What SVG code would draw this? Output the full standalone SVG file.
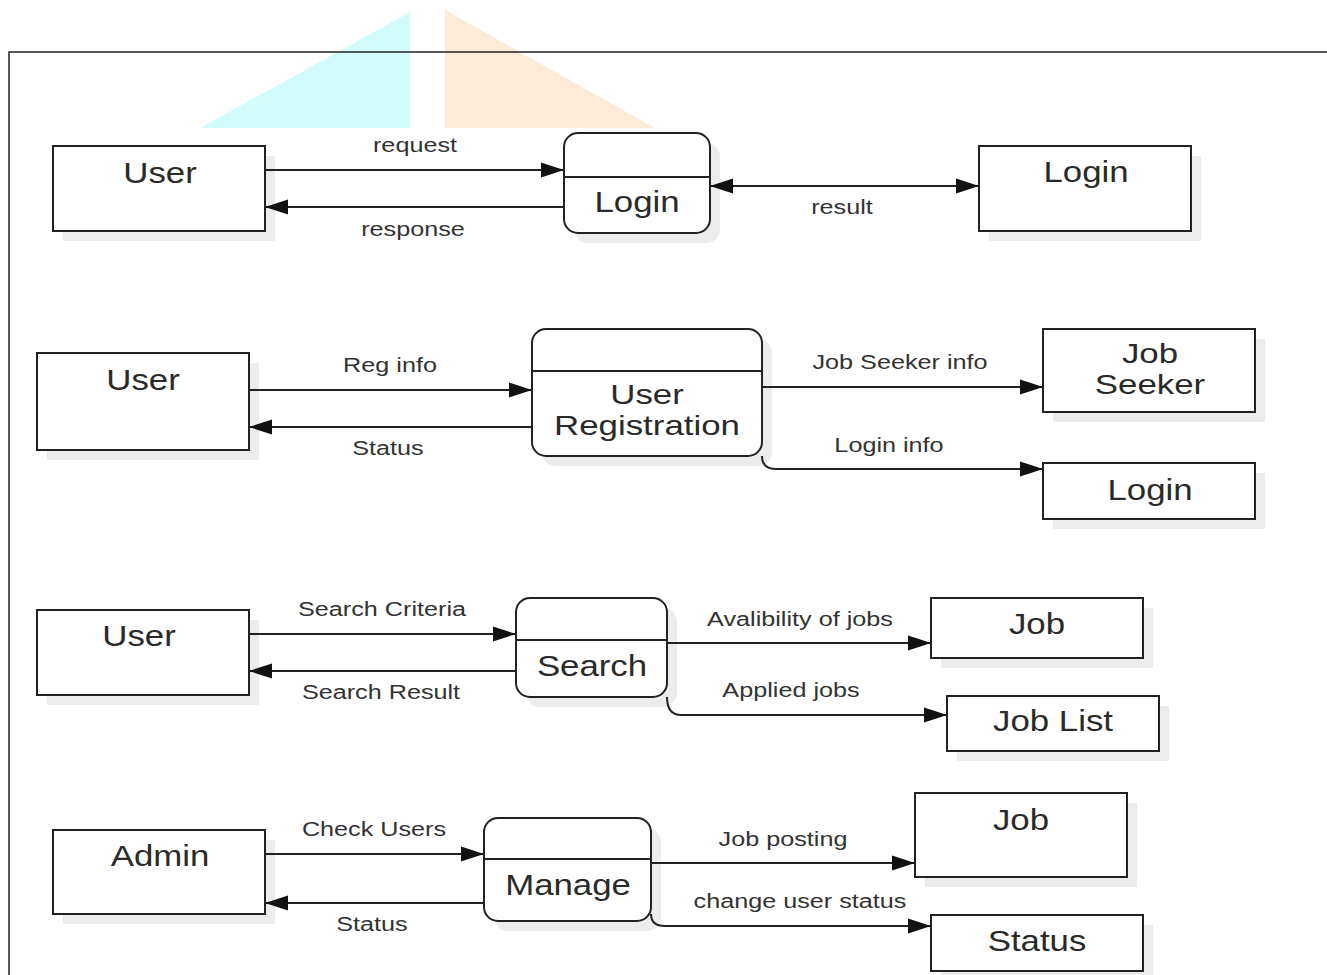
<svg xmlns="http://www.w3.org/2000/svg" width="1327" height="975" viewBox="0 0 1327 975">
<style>
.box{fill:#fff;stroke:#222;stroke-width:2}
.sh{fill:#ececec}
.ln{fill:none;stroke:#222;stroke-width:2}
.n{font-family:"Liberation Sans",Arial,sans-serif;font-size:29px;fill:#2a2a2a;text-anchor:middle}
.n2{font-family:"Liberation Sans",Arial,sans-serif;font-size:27px;fill:#2a2a2a;text-anchor:middle}
.l{font-family:"Liberation Sans",Arial,sans-serif;font-size:21px;fill:#333;text-anchor:middle}
</style>
<defs>
<marker id="ah" markerUnits="userSpaceOnUse" markerWidth="24" markerHeight="16" refX="23" refY="8" orient="auto-start-reverse">
<path d="M0,0.5 L23,8 L0,15.5 z" fill="#111"/>
</marker>
</defs>
<rect width="1327" height="975" fill="#fff"/>
<g id="watermark">
<polygon points="200,128 410,12 410,128" fill="#d2fcfc"/>
<polygon points="445,10 445,128 655,128" fill="#fdebd9"/>
</g>
<path d="M9,975 L9,52 L1327,52" fill="none" stroke="#222" stroke-width="1.5"/>

<g id="user1">
<rect class="sh" x="63" y="156" width="212" height="85"/>
<rect class="box" x="53" y="146" width="212" height="85"/>
<text class="n" transform="translate(160,183) scale(1.2,1)">User</text>
</g>
<g id="login-process">
<rect class="sh" x="574" y="143" width="146" height="100" rx="14"/>
<rect class="box" x="564" y="133" width="146" height="100" rx="14"/>
<line class="ln" x1="564" y1="177" x2="710" y2="177"/>
<text class="n" transform="translate(637,212) scale(1.2,1)">Login</text>
</g>
<g id="login-store1">
<rect class="sh" x="989" y="156" width="212" height="85"/>
<rect class="box" x="979" y="146" width="212" height="85"/>
<text class="n" transform="translate(1086,182) scale(1.2,1)">Login</text>
</g>

<g id="user2">
<rect class="sh" x="47" y="363" width="212" height="97"/>
<rect class="box" x="37" y="353" width="212" height="97"/>
<text class="n" transform="translate(143,390) scale(1.2,1)">User</text>
</g>
<g id="user-registration">
<rect class="sh" x="542" y="339" width="230" height="127" rx="14"/>
<rect class="box" x="532" y="329" width="230" height="127" rx="14"/>
<line class="ln" x1="532" y1="371" x2="762" y2="371"/>
<text class="n2" transform="translate(647,404) scale(1.29,1)">User</text>
<text class="n2" transform="translate(647,435) scale(1.29,1)">Registration</text>
</g>
<g id="job-seeker">
<rect class="sh" x="1053" y="339" width="212" height="83"/>
<rect class="box" x="1043" y="329" width="212" height="83"/>
<text class="n2" transform="translate(1150,363) scale(1.29,1)">Job</text>
<text class="n2" transform="translate(1150,394) scale(1.29,1)">Seeker</text>
</g>
<g id="login-store2">
<rect class="sh" x="1053" y="473" width="212" height="56"/>
<rect class="box" x="1043" y="463" width="212" height="56"/>
<text class="n" transform="translate(1150,500) scale(1.2,1)">Login</text>
</g>

<g id="user3">
<rect class="sh" x="47" y="620" width="212" height="85"/>
<rect class="box" x="37" y="610" width="212" height="85"/>
<text class="n" transform="translate(139,646) scale(1.2,1)">User</text>
</g>
<g id="search">
<rect class="sh" x="526" y="608" width="151" height="99" rx="14"/>
<rect class="box" x="516" y="598" width="151" height="99" rx="14"/>
<line class="ln" x1="516" y1="640" x2="667" y2="640"/>
<text class="n" transform="translate(592,676) scale(1.2,1)">Search</text>
</g>
<g id="job1">
<rect class="sh" x="941" y="608" width="212" height="60"/>
<rect class="box" x="931" y="598" width="212" height="60"/>
<text class="n" transform="translate(1037,634) scale(1.2,1)">Job</text>
</g>
<g id="job-list">
<rect class="sh" x="957" y="706" width="212" height="55"/>
<rect class="box" x="947" y="696" width="212" height="55"/>
<text class="n" transform="translate(1053,731) scale(1.2,1)">Job List</text>
</g>

<g id="admin">
<rect class="sh" x="63" y="840" width="212" height="84"/>
<rect class="box" x="53" y="830" width="212" height="84"/>
<text class="n" transform="translate(160,866) scale(1.2,1)">Admin</text>
</g>
<g id="manage">
<rect class="sh" x="494" y="828" width="167" height="103" rx="14"/>
<rect class="box" x="484" y="818" width="167" height="103" rx="14"/>
<line class="ln" x1="484" y1="859" x2="651" y2="859"/>
<text class="n" transform="translate(568,895) scale(1.2,1)">Manage</text>
</g>
<g id="job2">
<rect class="sh" x="925" y="803" width="212" height="84"/>
<rect class="box" x="915" y="793" width="212" height="84"/>
<text class="n" transform="translate(1021,830) scale(1.2,1)">Job</text>
</g>
<g id="status">
<rect class="sh" x="941" y="925" width="212" height="56"/>
<rect class="box" x="931" y="915" width="212" height="56"/>
<text class="n" transform="translate(1037,951) scale(1.2,1)">Status</text>
</g>

<g id="connectors">
<line class="ln" x1="265" y1="170" x2="564" y2="170" marker-end="url(#ah)"/>
<line class="ln" x1="564" y1="207" x2="265" y2="207" marker-end="url(#ah)"/>
<line class="ln" x1="710" y1="186" x2="979" y2="186" marker-start="url(#ah)" marker-end="url(#ah)"/>
<text class="l" transform="translate(415,152) scale(1.2,1)">request</text>
<text class="l" transform="translate(413,236) scale(1.2,1)">response</text>
<text class="l" transform="translate(842,214) scale(1.2,1)">result</text>

<line class="ln" x1="249" y1="390" x2="532" y2="390" marker-end="url(#ah)"/>
<line class="ln" x1="532" y1="427" x2="249" y2="427" marker-end="url(#ah)"/>
<line class="ln" x1="762" y1="387" x2="1043" y2="387" marker-end="url(#ah)"/>
<path class="ln" d="M762,456 Q762,469 776,469 L1043,469" marker-end="url(#ah)"/>
<text class="l" transform="translate(390,372) scale(1.2,1)">Reg info</text>
<text class="l" transform="translate(388,455) scale(1.2,1)">Status</text>
<text class="l" transform="translate(900,369) scale(1.2,1)">Job Seeker info</text>
<text class="l" transform="translate(889,452) scale(1.2,1)">Login info</text>

<line class="ln" x1="249" y1="634" x2="516" y2="634" marker-end="url(#ah)"/>
<line class="ln" x1="516" y1="671" x2="249" y2="671" marker-end="url(#ah)"/>
<line class="ln" x1="667" y1="643" x2="931" y2="643" marker-end="url(#ah)"/>
<path class="ln" d="M667,697 Q667,715 681,715 L947,715" marker-end="url(#ah)"/>
<text class="l" transform="translate(382,616) scale(1.2,1)">Search Criteria</text>
<text class="l" transform="translate(381,699) scale(1.2,1)">Search Result</text>
<text class="l" transform="translate(800,626) scale(1.2,1)">Avalibility of jobs</text>
<text class="l" transform="translate(791,697) scale(1.2,1)">Applied jobs</text>

<line class="ln" x1="265" y1="854" x2="484" y2="854" marker-end="url(#ah)"/>
<line class="ln" x1="484" y1="903" x2="265" y2="903" marker-end="url(#ah)"/>
<line class="ln" x1="651" y1="863" x2="915" y2="863" marker-end="url(#ah)"/>
<path class="ln" d="M651,914 Q651,926 665,926 L931,926" marker-end="url(#ah)"/>
<text class="l" transform="translate(374,836) scale(1.2,1)">Check Users</text>
<text class="l" transform="translate(372,931) scale(1.2,1)">Status</text>
<text class="l" transform="translate(783,846) scale(1.2,1)">Job posting</text>
<text class="l" transform="translate(800,908) scale(1.2,1)">change user status</text>
</g>
</svg>
